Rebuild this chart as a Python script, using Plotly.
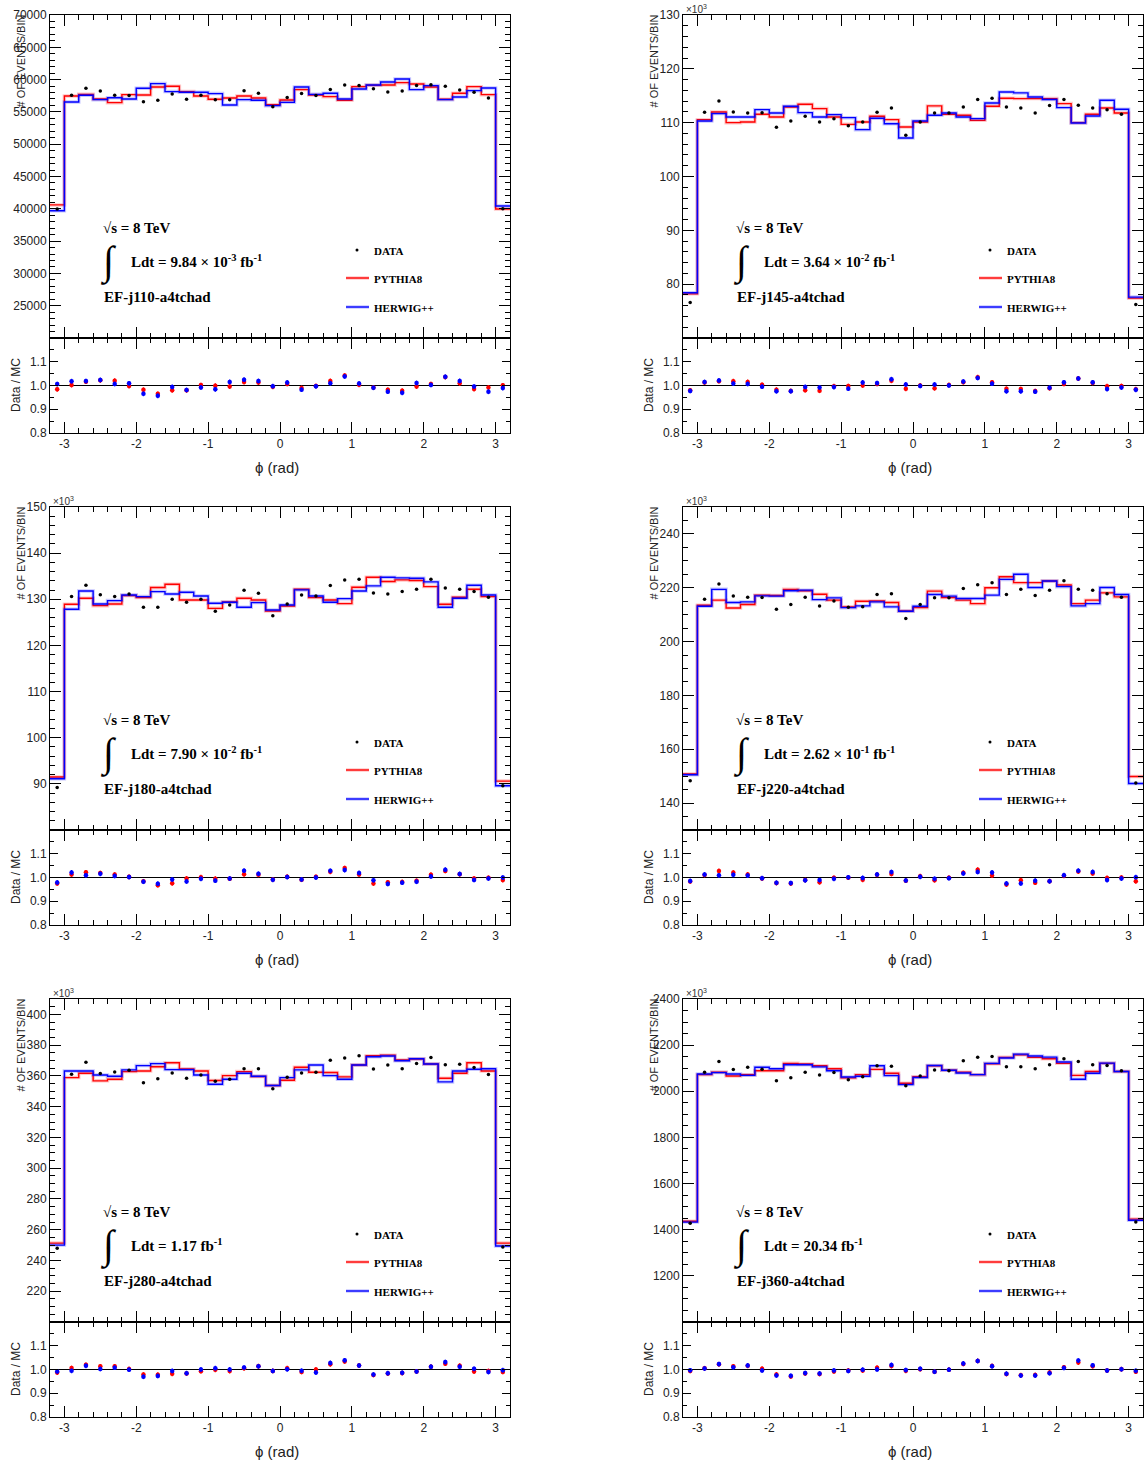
import numpy as np
import plotly.graph_objects as go

W, H = 1144, 1462

# phi binning: 32 bins of 0.2 rad, outer bins only partially inside [-pi, pi]
BIN_EDGES = np.round(np.linspace(-3.2, 3.2, 33), 2)
BIN_CENTERS = np.round((BIN_EDGES[:-1] + BIN_EDGES[1:]) / 2, 2)

TRIGGERS = ["EF-j110-a4tchad", "EF-j145-a4tchad", "EF-j180-a4tchad",
            "EF-j220-a4tchad", "EF-j280-a4tchad", "EF-j360-a4tchad"]
LUMI_LABELS = ["9.84 × 10<sup>-3</sup> fb<sup>-1</sup>",
               "3.64 × 10<sup>-2</sup> fb<sup>-1</sup>",
               "7.90 × 10<sup>-2</sup> fb<sup>-1</sup>",
               "2.62 × 10<sup>-1</sup> fb<sup>-1</sup>",
               "1.17 fb<sup>-1</sup>",
               "20.34 fb<sup>-1</sup>"]

# events per bin (panel 1 in events, panels 2-6 in units of 10^3 events)
data_j110 = [39950, 57570, 58650, 58240, 57570, 57520, 56590, 56800, 57780, 56950, 57570,
             56900, 56900, 58290, 57880, 55810, 57210, 57830, 57520, 58450, 59170, 59070,
             58600, 58090, 58240, 59070, 59220, 58970, 58400, 58040, 57160, 40000]
pythia_j110 = [40600, 57470, 57720, 57000, 56430, 57670, 57620, 58860, 58970, 58140, 57470,
               56950, 57160, 57470, 57160, 56120, 56850, 58450, 57620, 57360, 56800, 58910,
               59120, 59170, 59530, 59330, 58860, 56950, 57880, 58910, 57670, 39970]
herwig_j110 = [39700, 56540, 57570, 56900, 57200, 57000, 58650, 59380, 58140, 58040, 58040,
               57830, 56070, 56900, 56800, 55970, 56480, 58860, 57720, 57880, 57000, 58550,
               59170, 59640, 60100, 58450, 59070, 56900, 57310, 58290, 58710, 40430]

data_j145 = [76.6, 111.93, 114.04, 111.99, 111.80, 111.86, 109.13, 110.31, 111.18, 110.12, 110.75,
             109.44, 110.12, 111.93, 112.73, 107.64, 110.12, 111.80, 111.80, 112.92, 114.29, 114.53,
             112.92, 112.73, 111.80, 113.17, 114.29, 113.23, 112.73, 112.42, 111.55, 76.2]
pythia_j145 = [78.2, 110.56, 111.99, 110.00, 110.12, 111.55, 111.06, 112.92, 113.42, 112.61, 111.06,
               109.69, 110.12, 111.18, 110.56, 109.19, 110.12, 113.11, 111.55, 111.37, 110.43, 113.04,
               114.53, 114.47, 114.47, 114.47, 113.54, 110.00, 111.55, 112.73, 111.80, 77.4]
herwig_j145 = [78.4, 110.31, 111.68, 111.06, 111.06, 112.42, 111.80, 113.04, 111.86, 111.06, 111.49,
               110.93, 108.70, 110.81, 109.81, 107.14, 110.31, 111.37, 111.80, 111.06, 110.75, 113.66,
               115.71, 115.53, 114.78, 114.29, 112.80, 109.94, 111.24, 114.16, 112.48, 77.6]

data_j180 = [89.2, 130.58, 133.04, 131.01, 130.58, 131.16, 128.26, 128.26, 130.00, 129.35, 130.00,
             127.39, 128.77, 131.96, 131.30, 126.45, 128.99, 130.94, 130.72, 132.97, 134.20, 134.35,
             131.38, 131.16, 131.67, 132.17, 134.35, 132.46, 132.17, 131.67, 130.43, 89.6]
pythia_j180 = [91.5, 128.91, 130.22, 128.62, 128.99, 130.80, 130.36, 132.54, 133.26, 129.86, 129.86,
               128.04, 129.42, 130.22, 129.86, 127.46, 128.55, 132.17, 130.36, 129.86, 129.06, 132.61,
               134.78, 133.84, 134.20, 134.06, 132.75, 128.91, 130.43, 132.17, 130.58, 90.6]
herwig_j180 = [91.1, 127.83, 131.81, 128.99, 129.71, 130.94, 130.58, 131.67, 131.16, 131.52, 130.72,
               129.13, 129.35, 128.26, 129.28, 127.68, 128.77, 132.03, 130.72, 129.35, 130.14, 131.81,
               132.90, 134.78, 134.64, 134.57, 133.77, 128.26, 130.22, 133.04, 130.94, 89.6]

data_j220 = [148.3, 215.75, 221.4, 216.9, 216.5, 216.4, 212.0, 213.75, 216.5, 213.25, 215.1,
             212.75, 212.9, 217.5, 217.75, 208.6, 213.75, 216.25, 216.25, 219.75, 221.1, 221.9,
             217.5, 219.4, 217.1, 219.1, 222.6, 219.4, 219.1, 217.75, 216.5, 147.5]
pythia_j220 = [150.8, 213.5, 215.4, 212.5, 213.75, 217.25, 217.1, 219.4, 218.9, 217.6, 215.4,
               212.9, 215.0, 215.1, 214.5, 211.4, 212.6, 218.75, 216.4, 215.4, 214.1, 220.0,
               224.1, 221.9, 221.9, 222.5, 221.0, 214.1, 215.4, 218.1, 216.6, 149.9]
herwig_j220 = [150.5, 213.1, 219.4, 214.5, 214.75, 217.0, 216.9, 218.9, 219.1, 215.6, 216.25,
               212.6, 213.25, 214.75, 212.9, 211.25, 213.1, 217.5, 216.9, 216.0, 216.0, 217.25,
               223.1, 225.0, 220.1, 222.5, 220.4, 213.25, 214.1, 220.1, 217.5, 147.3]

data_j280 = [248.0, 361.1, 368.8, 361.5, 362.6, 363.7, 355.5, 358.1, 361.9, 358.5, 360.6,
             356.6, 357.8, 364.7, 364.7, 351.6, 359.1, 361.9, 362.4, 370.1, 371.6, 373.1,
             364.5, 367.1, 364.7, 368.0, 372.0, 367.3, 367.5, 365.4, 360.9, 248.7]
pythia_j280 = [251.3, 358.9, 361.7, 356.8, 357.8, 362.8, 363.2, 366.0, 368.6, 364.5, 363.2,
               357.0, 360.2, 362.8, 359.6, 353.8, 357.2, 365.6, 362.4, 362.2, 359.4, 367.1,
               373.1, 373.5, 370.3, 371.0, 367.7, 358.5, 361.7, 368.6, 363.2, 251.3]
herwig_j280 = [250.0, 363.2, 363.2, 360.6, 359.8, 363.9, 366.7, 368.0, 364.1, 364.1, 360.6,
               354.6, 357.8, 361.7, 359.8, 353.8, 358.9, 363.9, 367.1, 360.2, 357.8, 367.1,
               372.5, 372.9, 369.9, 371.2, 367.7, 356.1, 363.2, 364.3, 364.7, 249.4]

data_j360 = [1428, 2083, 2129, 2094, 2104, 2096, 2046, 2059, 2083, 2071, 2081,
             2050, 2063, 2111, 2108, 2024, 2066, 2092, 2089, 2132, 2147, 2151,
             2106, 2106, 2098, 2115, 2141, 2129, 2115, 2112, 2089, 1433]
pythia_j360 = [1437, 2072, 2083, 2066, 2072, 2089, 2089, 2121, 2118, 2111, 2098,
               2058, 2072, 2095, 2078, 2035, 2063, 2111, 2091, 2083, 2072, 2119,
               2147, 2158, 2147, 2141, 2121, 2069, 2086, 2121, 2086, 1446]
herwig_j360 = [1433, 2075, 2081, 2075, 2069, 2104, 2098, 2115, 2115, 2106, 2089,
               2062, 2065, 2111, 2068, 2029, 2060, 2112, 2091, 2079, 2072, 2121,
               2144, 2161, 2153, 2148, 2127, 2052, 2078, 2122, 2086, 1441]

DATA = [data_j110, data_j145, data_j180, data_j220, data_j280, data_j360]
PYTHIA = [pythia_j110, pythia_j145, pythia_j180, pythia_j220, pythia_j280, pythia_j360]
HERWIG = [herwig_j110, herwig_j145, herwig_j180, herwig_j220, herwig_j280, herwig_j360]

Y_RANGES = [(20000, 70000), (70, 130), (80, 150), (130, 250), (200, 410), (1000, 2400)]
Y_MAJOR = [5000, 10, 10, 20, 20, 200]
Y_MINOR = [1000, 2, 2, 5, 5, 50]
SCALED = [False, True, True, True, True, True]

RATIO_ERR = 0.01

RED = "#ff0000"
BLUE = "#0000ff"
RED_BAND = "rgba(255,0,0,0.22)"
BLUE_BAND = "rgba(0,0,255,0.22)"
SANS = "Liberation Sans, Arial, sans-serif"
SERIF = "Liberation Serif, Times New Roman, serif"

# panel geometry in pixels
COL_X = [(50, 510), (683, 1143)]
ROW_Y = [0, 492, 984]
MAIN_TOP, MAIN_BOT, RATIO_BOT = 15, 338, 433


def fx(x):
    return x / W


def fy(y):
    return 1 - y / H


fig = go.Figure()
annotations = []
shapes = []
layout = {}

for p in range(6):
    col, row = p % 2, p // 2
    x0, x1 = COL_X[col]
    oy = ROW_Y[row]
    ox = x0 - 50
    mi, ri = 2 * p + 1, 2 * p + 2
    xm, ym = f"x{mi}", f"y{mi}"
    xr, yr = f"x{ri}", f"y{ri}"

    data = np.array(DATA[p], dtype=float)
    py8 = np.array(PYTHIA[p], dtype=float)
    hw = np.array(HERWIG[p], dtype=float)

    # MC step histograms with a soft band behind the line
    for vals, col_line, band in [(py8, RED, RED_BAND), (hw, BLUE, BLUE_BAND)]:
        xs = list(BIN_EDGES)
        ys = list(vals) + [vals[-1]]
        fig.add_trace(go.Scatter(x=xs, y=ys, mode="lines", line=dict(color=band, width=3.5, shape="hv"),
                                 xaxis=xm, yaxis=ym, showlegend=False, hoverinfo="skip"))
        fig.add_trace(go.Scatter(x=xs, y=ys, mode="lines", line=dict(color=col_line, width=1.4, shape="hv"),
                                 xaxis=xm, yaxis=ym, showlegend=False))
    fig.add_trace(go.Scatter(x=BIN_CENTERS, y=data, mode="markers",
                             marker=dict(color="black", size=3.5),
                             xaxis=xm, yaxis=ym, showlegend=False))

    # ratio pad
    for mc, c in [(py8, RED), (hw, BLUE)]:
        fig.add_trace(go.Scatter(x=BIN_CENTERS, y=data / mc, mode="markers",
                                 marker=dict(color=c, size=4.5),
                                 error_y=dict(type="constant", value=RATIO_ERR, color=c,
                                              thickness=1.3, width=0),
                                 xaxis=xr, yaxis=yr, showlegend=False))
    shapes.append(dict(type="line", xref=f"{xr} domain", yref=yr, x0=0, x1=1, y0=1, y1=1,
                       line=dict(color="black", width=1.2), layer="below"))

    # axes
    dom_x = [fx(x0), fx(x1)]
    main_dom = [fy(oy + MAIN_BOT), fy(oy + MAIN_TOP)]
    ratio_dom = [fy(oy + RATIO_BOT), fy(oy + MAIN_BOT)]
    common = dict(showline=True, linecolor="black", linewidth=1, mirror="ticks",
                  ticks="inside", tickcolor="black", tickwidth=1, showgrid=False,
                  zeroline=False, automargin=False,
                  tickfont=dict(family=SANS, size=12, color="#222"))
    xticks = [-3, -2, -1, 0, 1, 2, 3]
    layout[f"xaxis{mi}"] = dict(common, domain=dom_x, range=[-3.2, 3.2], anchor=ym,
                                tickvals=xticks, showticklabels=False, ticklen=11,
                                minor=dict(dtick=0.2, tick0=0, ticklen=5, ticks="inside",
                                           tickcolor="black"))
    ylo, yhi = Y_RANGES[p]
    step = Y_MAJOR[p]
    first = (ylo // step + 1) * step
    yt = list(np.arange(first, yhi + 1e-9, step))
    layout[f"yaxis{mi}"] = dict(common, domain=main_dom, range=[ylo, yhi], anchor=xm,
                                tickvals=yt, ticktext=[f"{v:g}" for v in yt], ticklen=11,
                                minor=dict(dtick=Y_MINOR[p], tick0=0, ticklen=5,
                                           ticks="inside", tickcolor="black"))
    layout[f"xaxis{ri}"] = dict(common, domain=dom_x, range=[-3.2, 3.2], anchor=yr,
                                tickvals=xticks, ticktext=[str(v) for v in xticks],
                                ticklen=11,
                                minor=dict(dtick=0.2, tick0=0, ticklen=5, ticks="inside",
                                           tickcolor="black"))
    layout[f"yaxis{ri}"] = dict(common, domain=ratio_dom, range=[0.8, 1.2], anchor=xr,
                                tickvals=[0.8, 0.9, 1.0, 1.1],
                                ticktext=["0.8", "0.9", "1.0", "1.1"], ticklen=8,
                                minor=dict(dtick=0.05, tick0=0.8, ticklen=4, ticks="inside",
                                           tickcolor="black"))

    # axis titles
    annotations.append(dict(x=fx(ox + 20), y=fy(oy + 13), text="# OF EVENTS/BIN", textangle=-90,
                            xanchor="center", yanchor="top",
                            font=dict(family=SANS, size=11, color="#222")))
    annotations.append(dict(x=fx(ox + 16), y=fy(oy + 385), text="Data / MC", textangle=-90,
                            xanchor="center", yanchor="middle",
                            font=dict(family=SANS, size=12, color="#222")))
    annotations.append(dict(x=fx(ox + 277), y=fy(oy + 467), text="ϕ (rad)",
                            xanchor="center", yanchor="middle",
                            font=dict(family=SANS, size=15, color="#222")))
    if SCALED[p]:
        annotations.append(dict(x=fx(x0 + 1), y=fy(oy + 9), text="×10<sup>3</sup>",
                                xanchor="left", yanchor="middle",
                                font=dict(family=SANS, size=10, color="#333")))

    # run conditions
    bold = dict(family=SERIF, size=15, color="black")
    annotations.append(dict(x=fx(ox + 101), y=fy(oy + 228), text="<b>√s = 8 TeV</b>",
                            xanchor="left", yanchor="middle", font=bold))
    annotations.append(dict(x=fx(ox + 108), y=fy(oy + 261), text="∫",
                            xanchor="center", yanchor="middle",
                            font=dict(family=SERIF, size=40, color="black")))
    annotations.append(dict(x=fx(ox + 129), y=fy(oy + 261), text=f"<b>Ldt = {LUMI_LABELS[p]}</b>",
                            xanchor="left", yanchor="middle", font=bold))
    annotations.append(dict(x=fx(ox + 102), y=fy(oy + 297), text=f"<b>{TRIGGERS[p]}</b>",
                            xanchor="left", yanchor="middle", font=bold))

    # legend
    small = dict(family=SERIF, size=11, color="black")
    for label, ly in [("DATA", 251), ("PYTHIA8", 279), ("HERWIG++", 308)]:
        annotations.append(dict(x=fx(ox + 372), y=fy(oy + ly), text=f"<b>{label}</b>",
                                xanchor="left", yanchor="middle", font=small))
    shapes.append(dict(type="circle", xref="paper", yref="paper",
                       x0=fx(ox + 355.5), x1=fx(ox + 358.5), y0=fy(oy + 251.5), y1=fy(oy + 248.5),
                       fillcolor="black", line=dict(width=0)))
    for c, band, ly in [(RED, RED_BAND, 278), (BLUE, BLUE_BAND, 307)]:
        shapes.append(dict(type="line", xref="paper", yref="paper",
                           x0=fx(ox + 346), x1=fx(ox + 369), y0=fy(oy + ly), y1=fy(oy + ly),
                           line=dict(color=band, width=3.5)))
        shapes.append(dict(type="line", xref="paper", yref="paper",
                           x0=fx(ox + 346), x1=fx(ox + 369), y0=fy(oy + ly), y1=fy(oy + ly),
                           line=dict(color=c, width=1.4)))

for a in annotations:
    a.update(xref="paper", yref="paper", showarrow=False)

fig.update_layout(width=W, height=H, margin=dict(l=0, r=0, t=0, b=0, pad=0),
                  paper_bgcolor="white", plot_bgcolor="white",
                  annotations=annotations, shapes=shapes, showlegend=False, **layout)

fig.write_html("out.html")
